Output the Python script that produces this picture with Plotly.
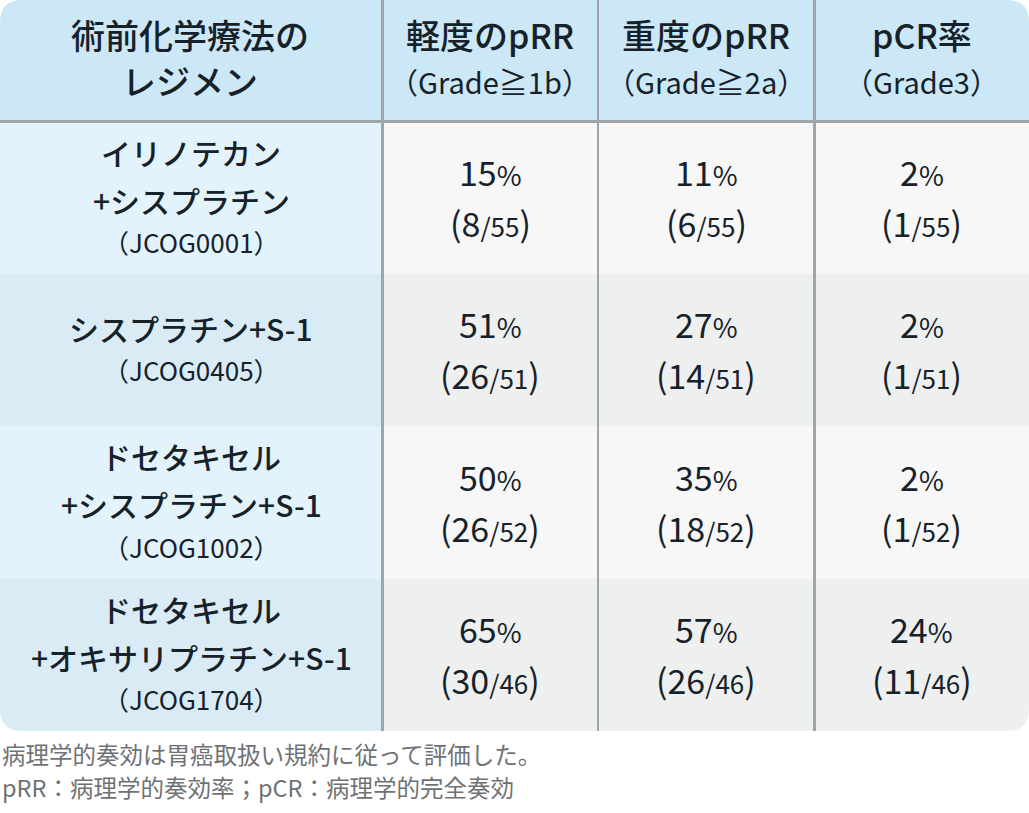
import plotly.graph_objects as go

# ── Datos ─────────────────────────────────────────────────────────────────────
header_regimen = ["術前化学療法の", "レジメン"]
header_titles = ["軽度のpRR", "重度のpRR", "pCR率"]
header_grades = ["（Grade≧1b）", "（Grade≧2a）", "（Grade3）"]

regimen_lines = [
    ["イリノテカン", "+シスプラチン"],
    ["シスプラチン+S-1"],
    ["ドセタキセル", "+シスプラチン+S-1"],
    ["ドセタキセル", "+オキサリプラチン+S-1"],
]
trial_ids = ["JCOG0001", "JCOG0405", "JCOG1002", "JCOG1704"]

patients = [55, 51, 52, 46]
mild_pct = [15, 51, 50, 65]
mild_n = [8, 26, 26, 30]
severe_pct = [11, 27, 35, 57]
severe_n = [6, 14, 18, 26]
pcr_pct = [2, 2, 2, 24]
pcr_n = [1, 1, 1, 11]

footnotes = [
    "病理学的奏効は胃癌取扱い規約に従って評価した。",
    "pRR：病理学的奏効率；pCR：病理学的完全奏効",
]

# ── Estilo ────────────────────────────────────────────────────────────────────
W, H = 1029, 813
FONT = "Noto Sans CJK JP"
C_TEXT = "#16212a"
C_NOTE = "#6f7275"
C_LINE = "#9fa5a9"
C_HEAD = "#cce8f6"
C_LEFT = ["#e3f3fb", "#d9ecf5"]
C_CELL = ["#f7f7f7", "#eef0f0"]

COL_EDGES = [0, 382.5, 598, 814.5, W]
ROW_EDGES = [0, 121.5, 273.5, 426, 578.5, 731]
RADIUS = 22


def rect_path(x0, y0, x1, y1, tl=0, tr=0, br=0, bl=0):
    return (f"M{x0 + tl},{y0} L{x1 - tr},{y0} Q{x1},{y0} {x1},{y0 + tr} "
            f"L{x1},{y1 - br} Q{x1},{y1} {x1 - br},{y1} "
            f"L{x0 + bl},{y1} Q{x0},{y1} {x0},{y1 - bl} "
            f"L{x0},{y0 + tl} Q{x0},{y0} {x0 + tl},{y0} Z")


def label(x, y, text, size, color=C_TEXT, xanchor="center", weight=400):
    return dict(x=x, y=y, xref="x", yref="y", text=text, showarrow=False,
                xanchor=xanchor, yanchor="middle",
                font=dict(family=FONT, size=size, color=color, weight=weight))


shapes = []
annotations = []
n_rows = len(trial_ids)
last_row = n_rows - 1

# ── Fondos ────────────────────────────────────────────────────────────────────
shapes.append(dict(type="path", xref="x", yref="y", layer="below",
                   path=rect_path(COL_EDGES[0], ROW_EDGES[0], COL_EDGES[-1], ROW_EDGES[1],
                                  tl=RADIUS, tr=RADIUS),
                   fillcolor=C_HEAD, line=dict(width=0)))

for i in range(n_rows):
    y0, y1 = ROW_EDGES[i + 1], ROW_EDGES[i + 2]
    bottom = RADIUS if i == last_row else 0
    shapes.append(dict(type="path", xref="x", yref="y", layer="below",
                       path=rect_path(COL_EDGES[0], y0, COL_EDGES[1], y1, bl=bottom),
                       fillcolor=C_LEFT[i % 2], line=dict(width=0)))
    shapes.append(dict(type="path", xref="x", yref="y", layer="below",
                       path=rect_path(COL_EDGES[1], y0, COL_EDGES[-1], y1, br=bottom),
                       fillcolor=C_CELL[i % 2], line=dict(width=0)))

# ── Líneas ────────────────────────────────────────────────────────────────────
for x, w in zip(COL_EDGES[1:-1], [3, 2, 3]):
    shapes.append(dict(type="line", xref="x", yref="y", x0=x, x1=x,
                       y0=ROW_EDGES[0], y1=ROW_EDGES[-1],
                       line=dict(color=C_LINE, width=w)))
shapes.append(dict(type="line", xref="x", yref="y", x0=COL_EDGES[0], x1=COL_EDGES[-1],
                   y0=ROW_EDGES[1], y1=ROW_EDGES[1], line=dict(color=C_LINE, width=3)))

# ── Encabezado ────────────────────────────────────────────────────────────────
cx0 = (COL_EDGES[0] + COL_EDGES[1]) / 2
annotations.append(label(cx0 - 1, 34, header_regimen[0], 34, weight=500))
annotations.append(label(cx0 - 1, 80, header_regimen[1], 34, weight=500))
for j, (title, grade) in enumerate(zip(header_titles, header_grades)):
    cx = (COL_EDGES[j + 1] + COL_EDGES[j + 2]) / 2
    annotations.append(label(cx, 34, title, 34, weight=500))
    annotations.append(label(cx, 81, grade, 29))

# ── Filas ─────────────────────────────────────────────────────────────────────
columns = [(mild_pct, mild_n), (severe_pct, severe_n), (pcr_pct, pcr_n)]
for i in range(n_rows):
    cy = (ROW_EDGES[i + 1] + ROW_EDGES[i + 2]) / 2
    lines = regimen_lines[i]
    block = 48 * (len(lines) - 1) + 42
    y = cy + 1 - block / 2 - 2
    for ln in lines:
        annotations.append(label(cx0, y, ln, 30, weight=500))
        y += 48
    annotations.append(label(cx0, y - 6, f"（{trial_ids[i]}）", 26))

    for j, (pct, n) in enumerate(columns):
        cx = (COL_EDGES[j + 1] + COL_EDGES[j + 2]) / 2
        annotations.append(label(cx, cy - 26,
                                 f"{pct[i]}<span style='font-size:27px'>%</span>", 34))
        annotations.append(label(cx, cy + 25,
                                 f"({n[i]}<span style='font-size:26px'>/{patients[i]}</span>)", 34))

# ── Notas ─────────────────────────────────────────────────────────────────────
for k, note in enumerate(footnotes):
    annotations.append(label(0, 754 + 33 * k, note, 23.5, color=C_NOTE, xanchor="left"))

fig = go.Figure()
fig.update_layout(
    width=W, height=H,
    margin=dict(l=0, r=0, t=0, b=0),
    paper_bgcolor="white", plot_bgcolor="white",
    xaxis=dict(range=[0, W], visible=False, fixedrange=True),
    yaxis=dict(range=[H, 0], visible=False, fixedrange=True),
    shapes=shapes, annotations=annotations,
    showlegend=False,
)
fig.write_html("out.html", config={"displayModeBar": False},
               post_script="document.body.style.margin='0';")
